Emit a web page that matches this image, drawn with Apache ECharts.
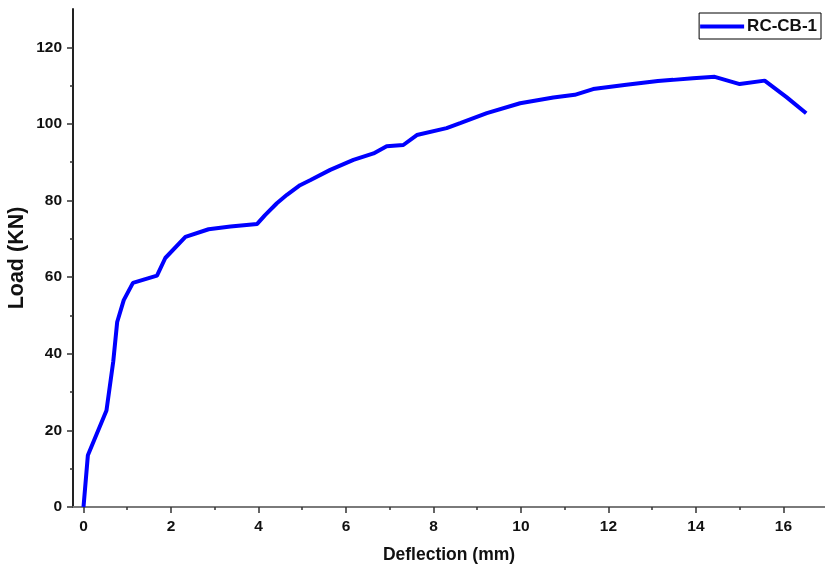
<!DOCTYPE html>
<html>
<head>
<meta charset="utf-8">
<script src="https://cdn.jsdelivr.net/npm/echarts@6/dist/echarts.min.js"></script>
<style>
  html, body { margin: 0; padding: 0; background: #fff; }
  #chart { width: 825px; height: 567px; }
</style>
</head>
<body>
<div id="chart"></div>
<script>
// deflection (mm) and load (KN)
const deflection = [0, 0.10, 0.525, 0.68, 0.77, 0.92, 1.13, 1.68, 1.87, 2.33, 2.86, 3.36, 3.97, 4.15, 4.42, 4.65, 4.95, 5.18, 5.64, 6.17, 6.63, 6.93, 7.31, 7.62, 8.30, 8.61, 9.22, 9.98, 10.74, 11.23, 11.65, 12.41, 13.13, 13.48, 13.93, 14.43, 15.0, 15.57, 16.07, 16.52]
const load = [0, 13.5, 25.2, 38, 48.3, 54, 58.5, 60.4, 65, 70.5, 72.5, 73.2, 73.9, 76.2, 79.3, 81.5, 84, 85.3, 88, 90.6, 92.3, 94.2, 94.5, 97.1, 98.9, 100.2, 102.8, 105.4, 106.9, 107.6, 109.1, 110.2, 111.2, 111.5, 111.9, 112.3, 110.4, 111.3, 107, 102.8]
const xMajorTicks = [0, 2, 4, 6, 8, 10, 12, 14, 16]
const xMinorTicks = [1, 3, 5, 7, 9, 11, 13, 15]
const yMajorTicks = [0, 20, 40, 60, 80, 100, 120]
const yMinorTicks = [10, 30, 50, 70, 90, 110]
const seriesName = 'RC-CB-1'

const font = 'Liberation Sans, Arial, sans-serif'
const chart = echarts.init(document.getElementById('chart'))

const tickStyle = { color: '#333', width: 1.5 }
const labelStyle = { fontFamily: font, fontWeight: 'bold', fontSize: 15.5, color: '#111' }

const option = {
  backgroundColor: '#fff',
  animation: false,
  grid: { left: 73, right: 0, top: 9, bottom: 60, outerBoundsMode: 'none' },
  legend: {
    right: 4,
    top: 13,
    padding: [5, 4, 4, 1],
    borderColor: '#000',
    borderWidth: 1,
    borderRadius: 0,
    itemWidth: 44,
    itemHeight: 16,
    itemGap: 4,
    textStyle: { fontFamily: font, fontWeight: 'bold', fontSize: 17, color: '#111', padding: [0, 0, 0, -2] },
    data: [{ name: seriesName, icon: 'path://M0,6 L44,6 L44,10 L0,10 Z' }]
  },
  xAxis: [
    {
      type: 'value',
      position: 'bottom',
      min: -0.24,
      max: 16.95,
      name: 'Deflection (mm)',
      nameLocation: 'middle',
      nameGap: 39,
      nameTextStyle: { fontFamily: font, fontWeight: 'bold', fontSize: 17.5, color: '#111' },
      axisLine: { onZero: false, lineStyle: { color: '#7a7a7a', width: 2 } },
      axisTick: { customValues: xMajorTicks, length: 6, lineStyle: tickStyle },
      axisLabel: Object.assign({ customValues: xMajorTicks, margin: 12 }, labelStyle),
      splitLine: { show: false }
    },
    {
      type: 'value',
      position: 'bottom',
      min: -0.24,
      max: 16.95,
      axisLine: { show: false, onZero: false },
      axisTick: { customValues: xMinorTicks, length: 3, lineStyle: tickStyle },
      axisLabel: { show: false },
      splitLine: { show: false }
    }
  ],
  yAxis: [
    {
      type: 'value',
      position: 'left',
      min: 0,
      max: 130,
      name: 'Load (KN)',
      nameLocation: 'middle',
      nameGap: 45,
      nameMoveOverlap: false,
      nameTextStyle: { fontFamily: font, fontWeight: 'bold', fontSize: 21.5, color: '#111' },
      axisLine: { show: true, onZero: false, lineStyle: { color: '#222', width: 2 } },
      axisTick: { show: true, customValues: yMajorTicks, length: 6, lineStyle: tickStyle },
      axisLabel: Object.assign({ customValues: yMajorTicks, margin: 11 }, labelStyle),
      splitLine: { show: false }
    },
    {
      type: 'value',
      position: 'left',
      min: 0,
      max: 130,
      axisLine: { show: false, onZero: false },
      axisTick: { show: true, customValues: yMinorTicks, length: 3, lineStyle: tickStyle },
      axisLabel: { show: false },
      splitLine: { show: false }
    }
  ],
  series: [
    {
      name: seriesName,
      type: 'line',
      xAxisIndex: 0,
      yAxisIndex: 0,
      symbol: 'none',
      lineStyle: { color: '#0000ff', width: 4 },
      itemStyle: { color: '#0000ff' },
      data: deflection.map((d, i) => [d, load[i]])
    }
  ]
}

chart.setOption(option)
</script>
</body>
</html>
